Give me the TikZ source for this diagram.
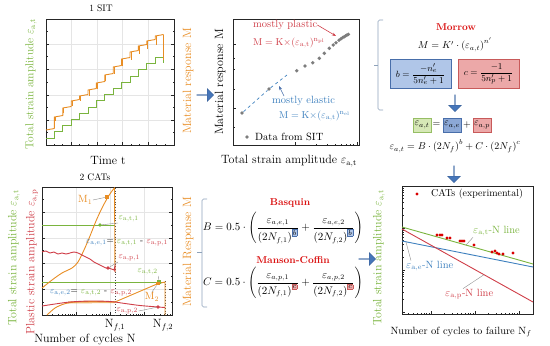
\documentclass[tikz,border=0pt]{standalone}
\usepackage{amsmath,amssymb}
\usepackage{fontspec}
\usetikzlibrary{arrows.meta,shapes.arrows,positioning,calc}

\definecolor{sitgreen}{RGB}{122,180,62}
\definecolor{sitorange}{RGB}{232,141,36}
\definecolor{catred}{RGB}{207,62,72}
\definecolor{titred}{RGB}{218,16,16}
\definecolor{elblue}{RGB}{62,128,190}
\definecolor{arrblue}{RGB}{70,118,186}
\definecolor{bfill}{RGB}{176,198,232}
\definecolor{bdraw}{RGB}{72,110,170}
\definecolor{cfill}{RGB}{236,168,168}
\definecolor{cdraw}{RGB}{200,90,90}
\definecolor{tfill}{RGB}{214,232,182}
\definecolor{tdraw}{RGB}{150,190,100}
\definecolor{efill}{RGB}{140,168,214}
\definecolor{brgray}{RGB}{142,162,186}
\definecolor{ptgray}{RGB}{125,125,125}

\newcommand{\bexp}{{\setlength{\fboxsep}{0.7pt}\setlength{\fboxrule}{0.3pt}\fcolorbox{bdraw}{bfill}{$\scriptstyle b$}}}
\newcommand{\cexp}{{\setlength{\fboxsep}{0.7pt}\setlength{\fboxrule}{0.3pt}\fcolorbox{cdraw}{cfill}{$\scriptstyle c$}}}

\begin{document}
\begin{tikzpicture}[x=1pt,y=-1pt,
    frame/.style={draw=black!85, line width=0.6pt},
    gridln/.style={draw=black!10, line width=0.3pt},
    axlab/.style={font=\fontsize{12}{13}\selectfont, inner sep=0pt},
    ttl/.style={font=\fontsize{9.5}{11}\selectfont, inner sep=0pt},
    sm/.style={font=\fontsize{9.5}{10}\selectfont, inner sep=0.5pt},
    note/.style={font=\fontsize{10.5}{11}\selectfont, inner sep=0pt, anchor=west},
    heading/.style={font=\bfseries\fontsize{10}{12}\selectfont, text=titred, inner sep=0pt},
    eqn/.style={font=\fontsize{10}{12}\selectfont, inner sep=0pt},
    eqbox/.style={draw, line width=0.6pt, minimum width=61pt, minimum height=29pt, inner sep=1pt, font=\fontsize{9.5}{10}\selectfont},
    sbox/.style={draw, line width=0.6pt, minimum width=18pt, minimum height=14pt, inner sep=0pt, font=\fontsize{10}{12}\selectfont},
    blockarr/.style={single arrow, fill=arrblue, draw=arrblue!80!black, line width=0.3pt, minimum height=17pt, minimum width=13pt, single arrow head extend=3pt, inner sep=0pt},
    brk/.style={draw=brgray, line width=0.7pt, rounded corners=1.5pt},
    lead/.style={draw=black!45, line width=0.4pt},
    gdot/.style={circle, fill=ptgray, inner sep=0pt, minimum size=3.8pt},
    rdot/.style={circle, fill=red!85!black, inner sep=0pt, minimum size=3.4pt},
    sq/.style={rectangle, inner sep=0pt, minimum size=3.6pt},
    curve/.style={line width=0.9pt}
]
\useasboundingbox (0,0) rectangle (550,346);

% ---------- 1 SIT ----------
\node[ttl] (t1) at (101,8) {1 SIT};
\foreach \g in {71,97,122,148} \draw[gridln] (\g,19) -- (\g,145);
\foreach \g in {44,69,95,120} \draw[gridln] (46,\g) -- (174,\g);
\draw[frame] (46,19) rectangle (174,145);
\foreach \g in {44,69,95,120} {\draw[frame] (46,\g) -- ++(3,0); \draw[frame] (174,\g) -- ++(-3,0);}
\foreach \g in {31.5,56.5,82,107.5,132.5} {\draw[frame] (46,\g) -- ++(1.5,0); \draw[frame] (174,\g) -- ++(-1.5,0);}
\foreach \g in {71,97,122,148} \draw[frame] (\g,145) -- ++(0,-3);
\foreach \g in {54,62,79,88,105,114,131,139,156,165} \draw[frame] (\g,145) -- ++(0,-1.5);

\draw[sitgreen, curve] (46,138) \foreach \i in {1,...,13} { -- ++(8.4,0) -- ++(0,-6.2) } -- ++(8.4,0) -- ++(0,6);
\foreach \ya [count=\i from 0, remember=\ya as \yp (initially 131.5)] in {130,117,108,101,96,90,83,75,67,59,52,46,41,36} {
  \draw[sitorange, curve] ({46+8.4*\i},{\yp-1.5}) -- ({46+8.4*\i},\ya) -- ({54.4+8.4*\i},{\ya-1.5});
  \ifnum\i>0 \draw[sitorange, line width=0.5pt] ({46.8+8.4*\i},\ya) -- ++(0,{4+0.35*\i}); \fi
}
\draw[sitorange, curve] (163.6,34.5) -- (163.6,60);

\node[axlab, text=sitgreen, rotate=90, font=\fontsize{11.5}{13}\selectfont] (yl1) at (31,84) {Total strain amplitude $\varepsilon_{\mathrm{a,t}}$};
\node[axlab, text=sitorange, rotate=90] (yr1) at (188,81) {Material response M};
\node[axlab] (xl1) at (108,160) {Time t};

\node[blockarr] (ar1) at (205,95) {};

% ---------- fit of SIT data ----------
\draw[frame] (233,19) rectangle (359,145);
\foreach \g in {44,108} \draw[frame] (233,\g) -- ++(3,0);
\foreach \g in {58,69,89,127} \draw[frame] (233,\g) -- ++(1.5,0);
\foreach \g in {295,357} \draw[frame] (\g,145) -- ++(0,-3);
\foreach \g in {316,327,335,341,346,350,353} \draw[frame] (\g,145) -- ++(0,-1.5);
\node[axlab, rotate=90] (yl2) at (220,82) {Material response M};
\node[axlab] (xl2) at (289,161) {Total strain amplitude $\varepsilon_{\mathrm{a,t}}$};

\coordinate (dend) at (287,75);
\foreach \px/\py [count=\k] in {242/113, 269/89, 296.7/70.7, 305/66, 312.7/62.7, 319.3/58.3, 324.3/53.3, 329.3/48.3, 333.3/45, 336/42.7, 339/40.2, 341/38.8, 342.7/37.6, 344.2/36.7, 345.6/35.8, 347/35, 348.4/34.3}
  \node[gdot] (d\k) at (\px,\py) {};
\draw[elblue, dashed, line width=0.7pt] (d1) -- (d2) -- (dend);

\node[note, text=catred] (mp) at (253,25) {mostly plastic};
\node[note, text=catred, font=\fontsize{10}{11}\selectfont] (mpf) at (253,43) {$\mathrm{M = K{\times}(\varepsilon_{a,t})^{n_{pl}}}$};
\coordinate (ptip) at (336,36);
\draw[-{Stealth[length=4pt]}, catred, line width=0.6pt] (mp.east) -- (ptip);
\node[note, text=elblue] (me) at (272,101) {mostly elastic};
\node[note, text=elblue, font=\fontsize{10}{11}\selectfont] (mef) at (279,116) {$\mathrm{M = K{\times}(\varepsilon_{a,t})^{n_{el}}}$};
\coordinate (etip) at (279,86);
\draw[-{Stealth[length=4pt]}, bdraw, line width=0.6pt] ([xshift=12pt]me.north west) -- (etip);
\node[gdot] (lgd) at (247,137) {};
\node[note] (lgt) at (255,137) {Data from SIT};

% ---------- Morrow ----------
\draw[brk] (383,20) -- (378,20) -- (378,110) -- (383,110);
\draw[brk] (378,65) -- (374,65);
\node[heading] (mor) at (456,27) {Morrow};
\node[eqn] (meq) at (455,45) {$M = K'\cdot\left(\varepsilon_{a,t}\right)^{n'}$};
\node[eqbox, draw=bdraw, fill=bfill] (bb) at (420.5,74) {$b=\dfrac{-n'_e}{5n'_e+1}$};
\node[eqbox, draw=cdraw, fill=cfill] (cb) at (488.5,74) {$c=\dfrac{-1}{5n'_p+1}$};
\node[blockarr, shape border rotate=270] (ar2) at (455,103) {};
\node[sbox, draw=tdraw, fill=tfill] (et) at (422,125) {$\varepsilon_{a,t}$};
\node[eqn] (eq1) at (436.5,125) {$=$};
\node[sbox, draw=bdraw, fill=efill] (ee) at (452,125) {$\varepsilon_{a,e}$};
\node[eqn] (pl1) at (467,125) {$+$};
\node[sbox, draw=cdraw, fill=cfill] (ep) at (482,125) {$\varepsilon_{a,p}$};
\node[eqn] (mc) at (455,146) {$\varepsilon_{a,t} = B\cdot\left(2N_f\right)^b + C\cdot\left(2N_f\right)^c$};
\node[blockarr, shape border rotate=270] (ar3) at (454,174) {};

% ---------- 2 CATs ----------
\node[ttl] (t2) at (95,177) {2 CATs};
\foreach \g in {76,110,144} \draw[gridln] (\g,187) -- (\g,315);
\foreach \g in {212,238,263,289} \draw[gridln] (42,\g) -- (172,\g);
\draw[frame] (42,187) rectangle (172,315);
\foreach \g in {212,238,263,289} {\draw[frame] (42,\g) -- ++(3,0); \draw[frame] (172,\g) -- ++(-3,0);}
\foreach \g in {199.5,225,250.5,276,302} {\draw[frame] (42,\g) -- ++(1.5,0); \draw[frame] (172,\g) -- ++(-1.5,0);}
\foreach \g in {76,110,144} \draw[frame] (\g,315) -- ++(0,-3);
\foreach \d in {42,76,110} \foreach \k in {2,...,9} \draw[frame] ({\d+34*log10(\k)},315) -- ++(0,-1.5);
\foreach \k in {2,...,6} \draw[frame] ({144+34*log10(\k)},315) -- ++(0,-1.5);

\draw[black!70, dotted, line width=0.7pt] (115,188) -- (115,315);
\draw[black!70, dotted, line width=0.7pt] (165,281) -- (165,315);

\draw[sitgreen, curve] (42,225) -- (115,225);
\draw[sitgreen, curve] (42,282) -- (165,282);
\draw[sitorange, curve] plot[smooth] coordinates {(42,288) (52,280) (62,273) (72,268) (78,262) (84,250) (90,236) (96,221) (102,208) (108,197) (112,191) (114.5,188)} -- (115,272);
\draw[sitorange, curve] plot[smooth] coordinates {(47,315) (55,308) (64,304) (75,302) (95,301.5) (115,302)} -- (157,284) -- (165,282) -- (165,315);
\draw[sitorange, line width=2pt, opacity=0.6] (68,302.5) -- (115,302);
\draw[catred, curve] plot[smooth] coordinates {(42,252) (46,251) (50,253) (54,252) (58,254) (62,253) (66,254) (70,253) (74,252) (78,253) (82,255) (86,257) (90,259) (94,262) (98,264) (102,266) (106,268) (110,268.5) (114,270)} -- (115,266) -- (115,272);
\draw[catred, curve] plot[smooth] coordinates {(42,306) (55,304) (70,302) (90,301) (110,301.5) (125,303.5) (140,305.5) (158,307) (165,307.5)};

\node[sq, fill=sitorange] (m1) at (107,197) {};
\node[circle, fill=sitgreen, inner sep=0pt, minimum size=3.6pt] (mt1) at (100,225) {};
\node[circle, fill=catred, inner sep=0pt, minimum size=3.6pt] (mp1) at (108,268) {};
\node[sq, fill=sitgreen] (mt2) at (159,282) {};
\node[sq, fill=sitorange] (m2) at (158,283.5) {};
\node[circle, fill=catred, inner sep=0pt, minimum size=3.6pt] (mp2) at (158,307) {};

\node[sm, text=sitorange, anchor=east, font=\fontsize{10.5}{11}\selectfont] (lm1) at (93,200) {M$_1$};
\draw[lead] (lm1.east) -- (m1);
\node[sm, text=sitgreen, anchor=west] (lt1) at (118,219) {$\varepsilon_{\mathrm{a,t,1}}$};
\draw[lead] (lt1.south west) -- (mt1);
\node[sm] (le1) at (127,243) {\textcolor{elblue}{$\varepsilon_{\mathrm{a,e,1}}$}$=$ \textcolor{sitgreen}{$\varepsilon_{\mathrm{a,t,1}}$} - \textcolor{catred}{$\varepsilon_{\mathrm{a,p,1}}$}};
\node[sm, text=catred, anchor=west] (lp1) at (118,258) {$\varepsilon_{\mathrm{a,p,1}}$};
\draw[lead] (lp1.south west) -- (mp1);
\node[sm, text=sitgreen, anchor=west] (lt2) at (137,272) {$\varepsilon_{\mathrm{a,t,2}}$};
\draw[lead] (lt2.south east) -- (mt2);
\node[sm, text=sitorange, font=\fontsize{10.5}{11}\selectfont] (lm2) at (152,297) {M$_2$};
\draw[lead] (lm2.north) -- (m2);
\node[sm] (le2) at (91,293) {\textcolor{elblue}{$\varepsilon_{\mathrm{a,e,2}}$}$=$ \textcolor{sitgreen}{$\varepsilon_{\mathrm{a,t,2}}$} - \textcolor{catred}{$\varepsilon_{\mathrm{a,p,2}}$}};
\node[sm, text=catred, anchor=west] (lp2) at (116,311) {$\varepsilon_{\mathrm{a,p,2}}$};
\draw[lead] (lp2.east) -- (mp2);

\node[axlab, text=sitgreen, rotate=90] (yl4a) at (14,258) {Total strain amplitude $\varepsilon_{\mathrm{a,t}}$};
\node[axlab, text=catred, rotate=90] (yl4b) at (32,262) {Plastic strain amplitude $\varepsilon_{\mathrm{a,p}}$};
\node[axlab, text=sitorange, rotate=90] (yr4) at (188,252) {Material Response M};
\node[axlab] (n1) at (115,325) {N$_{f,1}$};
\node[axlab] (n2) at (163,325) {N$_{f,2}$};
\node[axlab] (xl4) at (85,339) {Number of cycles N};

% ---------- Basquin / Manson-Coffin ----------
\draw[brk] (207,199) -- (202,199) -- (202,307) -- (207,307);
\draw[brk] (202,252) -- (197,252);
\node[heading] (bas) at (290,203) {Basquin};
\node[eqn, font=\fontsize{10.5}{12}\selectfont] (beq) at (283,228) {$B = 0.5\cdot\left(\dfrac{\varepsilon_{a,e,1}}{\left(2N_{f,1}\right)^{\bexp}}+\dfrac{\varepsilon_{a,e,2}}{\left(2N_{f,2}\right)^{\bexp}}\right)$};
\node[heading] (man) at (293,260) {Manson-Coffin};
\node[eqn, font=\fontsize{10.5}{12}\selectfont] (ceq) at (283,283) {$C = 0.5\cdot\left(\dfrac{\varepsilon_{a,p,1}}{\left(2N_{f,1}\right)^{\cexp}}+\dfrac{\varepsilon_{a,p,2}}{\left(2N_{f,2}\right)^{\cexp}}\right)$};
\node[blockarr] (ar4) at (367,259) {};

% ---------- strain-life curves ----------
\draw[frame] (402,186) rectangle (533,314);
\foreach \g in {228,270,312} \draw[frame] (402,\g) -- ++(3,0);
\foreach \d in {228,270,312} \foreach \k in {2,...,9} \draw[frame] (402,{\d-42*log10(\k)}) -- ++(1.5,0);
\foreach \g in {431,475,519} \draw[frame] (\g,314) -- ++(0,-3);
\foreach \k in {3,...,9} \draw[frame] ({387+44*log10(\k)},314) -- ++(0,-1.5);
\foreach \d in {431,475} \foreach \k in {2,...,9} \draw[frame] ({\d+44*log10(\k)},314) -- ++(0,-1.5);

\draw[sitgreen, curve] (402,227) -- (533,264);
\draw[elblue, curve] (402,241) -- (533,267);
\draw[catred, curve] (402,229) -- (533,302);
\foreach \px/\py in {437/235, 440/235, 442/235, 447/238, 450/238, 460/241, 462/241, 464/241, 474/245, 492/252, 495/251, 497/253, 499/254, 503/254, 513/253}
  \node[rdot] at (\px,\py) {};

\node[rdot] (lgr) at (417,194) {};
\node[note, font=\fontsize{10}{11}\selectfont] (lgc) at (431,194) {CATs (experimental)};

\coordinate (gln) at (466,245);
\coordinate (bln) at (406,242);
\coordinate (rln) at (484,274.7);
\node[note, text=sitgreen] (ltn) at (473,231) {$\varepsilon_{\mathrm{a,t}}$-N line};
\draw[lead] ([yshift=-1pt]ltn.south west) -- (gln);
\node[note, text=elblue] (len) at (406,266) {$\varepsilon_{\mathrm{a,e}}$-N line};
\draw[lead] ([xshift=5pt]len.north west) -- (bln);
\node[note, text=catred] (lpn) at (445,294) {$\varepsilon_{\mathrm{a,p}}$-N line};
\draw[lead] ([xshift=18pt]lpn.north west) -- (rln);

\node[axlab, text=sitgreen, rotate=90] (yl6) at (379,258) {Total strain amplitude $\varepsilon_{\mathrm{a,t}}$};
\node[axlab, font=\fontsize{10.5}{12}\selectfont] (xl6) at (461,332) {Number of cycles to failure N$_f$};
\end{tikzpicture}
\end{document}
